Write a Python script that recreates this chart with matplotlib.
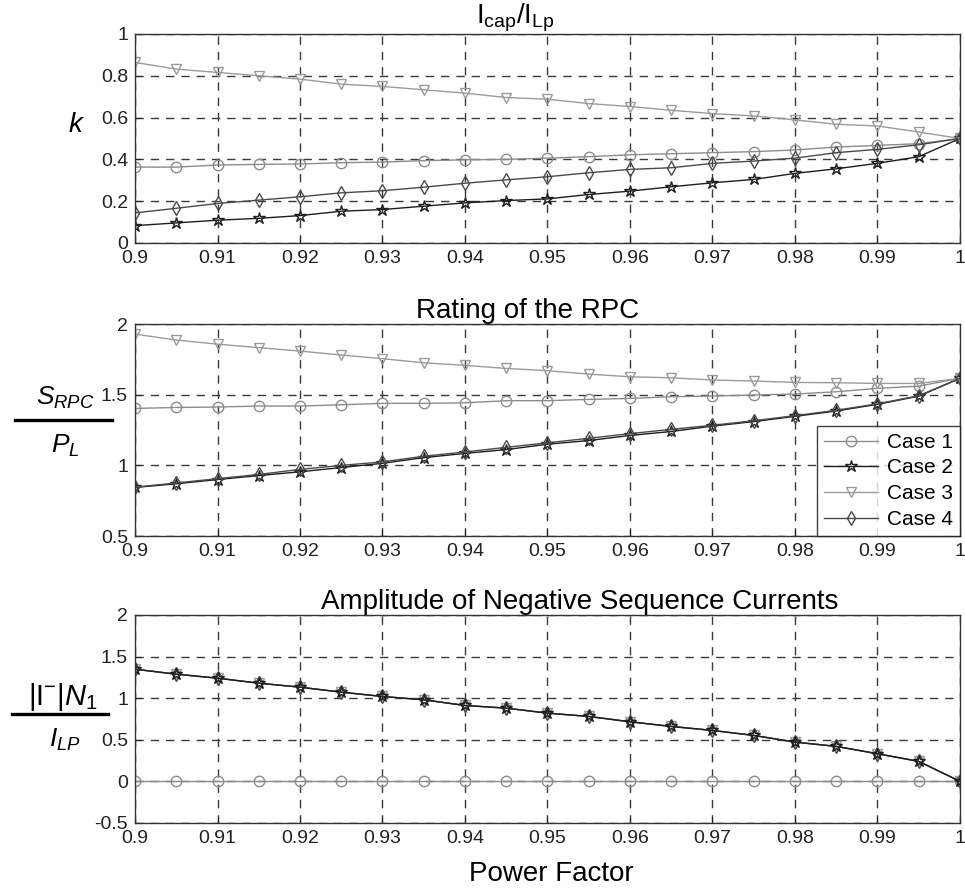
import numpy as np
import matplotlib.pyplot as plt
from matplotlib.lines import Line2D

plt.rcParams['font.family'] = ['Liberation Sans', 'DejaVu Sans']
plt.rcParams['mathtext.fontset'] = 'custom'
plt.rcParams['mathtext.rm'] = 'Liberation Sans'
plt.rcParams['mathtext.it'] = 'Liberation Sans:italic'

# power factor
pf = [0.9, 0.905, 0.91, 0.915, 0.92, 0.925, 0.93, 0.935, 0.94, 0.945, 0.95,
      0.955, 0.96, 0.965, 0.97, 0.975, 0.98, 0.985, 0.99, 0.995, 1.0]

# k = Icap/ILp
k_case1 = [0.363, 0.363, 0.373, 0.376, 0.378, 0.384, 0.387, 0.394, 0.398, 0.400, 0.406,
           0.413, 0.422, 0.427, 0.432, 0.437, 0.445, 0.459, 0.467, 0.475, 0.500]
k_case2 = [0.083, 0.096, 0.109, 0.118, 0.131, 0.152, 0.160, 0.176, 0.192, 0.203, 0.211,
           0.232, 0.248, 0.269, 0.288, 0.304, 0.333, 0.355, 0.381, 0.413, 0.500]
k_case3 = [0.864, 0.832, 0.816, 0.800, 0.784, 0.760, 0.749, 0.733, 0.717, 0.696, 0.688,
           0.667, 0.653, 0.635, 0.619, 0.608, 0.589, 0.568, 0.560, 0.531, 0.500]
k_case4 = [0.144, 0.166, 0.189, 0.205, 0.221, 0.240, 0.250, 0.267, 0.286, 0.302, 0.317,
           0.336, 0.352, 0.360, 0.381, 0.392, 0.406, 0.432, 0.448, 0.470, 0.500]

# rating of the RPC, S_RPC / P_L
s_case1 = [1.403, 1.410, 1.413, 1.420, 1.420, 1.429, 1.439, 1.439, 1.443, 1.458, 1.458,
           1.467, 1.474, 1.486, 1.491, 1.498, 1.505, 1.521, 1.545, 1.561, 1.616]
s_case2 = [0.844, 0.870, 0.900, 0.928, 0.955, 0.985, 1.015, 1.055, 1.085, 1.112, 1.150,
           1.176, 1.212, 1.240, 1.278, 1.310, 1.347, 1.385, 1.432, 1.490, 1.616]
s_case3 = [1.929, 1.887, 1.858, 1.833, 1.809, 1.781, 1.755, 1.726, 1.708, 1.686, 1.670,
           1.646, 1.627, 1.620, 1.604, 1.597, 1.587, 1.585, 1.580, 1.580, 1.616]
s_case4 = [0.846, 0.876, 0.906, 0.936, 0.972, 1.000, 1.025, 1.065, 1.095, 1.128, 1.160,
           1.192, 1.225, 1.255, 1.284, 1.316, 1.352, 1.390, 1.436, 1.493, 1.616]

# amplitude of negative sequence currents
n_case1 = [0.0] * 21
n_case2 = [1.348, 1.288, 1.240, 1.180, 1.132, 1.072, 1.020, 0.980, 0.912, 0.880, 0.820,
           0.780, 0.716, 0.660, 0.612, 0.552, 0.472, 0.420, 0.332, 0.240, 0.000]
n_case3 = n_case2
n_case4 = n_case2

xticks = [0.9, 0.91, 0.92, 0.93, 0.94, 0.95, 0.96, 0.97, 0.98, 0.99, 1.0]
xticklabels = ['0.9', '0.91', '0.92', '0.93', '0.94', '0.95', '0.96', '0.97', '0.98', '0.99', '1']

styles = [
    dict(marker='o', color='#8c8c8c', label='Case 1'),
    dict(marker='*', color='#1e1e1e', label='Case 2'),
    dict(marker='v', color='#9a9a9a', label='Case 3'),
    dict(marker='d', color='#4a4a4a', label='Case 4'),
]

fig = plt.figure(figsize=(9.65, 8.92), dpi=100)
w = 0.8549
ax1 = fig.add_axes([0.1399, 0.7276, w, 0.2343])
ax2 = fig.add_axes([0.1399, 0.3990, w, 0.2377])
ax3 = fig.add_axes([0.1399, 0.0774, w, 0.2332])


def draw(ax, series, order):
    for i in order:
        st = styles[i]
        ms = 9 if st['marker'] == '*' else 7.5
        ax.plot(pf, series[i], marker=st['marker'], color=st['color'], lw=1.0,
                ms=ms, mfc='none', mec=st['color'], mew=1.0, label=st['label'])


draw(ax1, [k_case1, k_case2, k_case3, k_case4], [0, 1, 2, 3])
draw(ax2, [s_case1, s_case2, s_case3, s_case4], [0, 1, 2, 3])
draw(ax3, [n_case1, n_case2, n_case3, n_case4], [0, 2, 3, 1])

ylims = [(0, 1), (0.5, 2), (-0.5, 2)]
yticks = [[0, 0.2, 0.4, 0.6, 0.8, 1], [0.5, 1, 1.5, 2], [-0.5, 0, 0.5, 1, 1.5, 2]]
yticklabels = [['0', '0.2', '0.4', '0.6', '0.8', '1'],
               ['0.5', '1', '1.5', '2'],
               ['-0.5', '0', '0.5', '1', '1.5', '2']]
titles = [r'$\mathregular{I_{cap}/I_{Lp}}$', 'Rating of the RPC',
          'Amplitude of Negative Sequence Currents']
title_x = [0.461, 0.476, 0.539]

for ax, yl, yt, ytl, t, tx in zip([ax1, ax2, ax3], ylims, yticks, yticklabels, titles, title_x):
    ax.set_xlim(0.9, 1.0)
    ax.set_ylim(*yl)
    ax.set_xticks(xticks)
    ax.set_xticklabels(xticklabels)
    ax.set_yticks(yt)
    ax.set_yticklabels(ytl)
    ax.tick_params(direction='in', labelsize=14, length=4, colors='#222222')
    ax.tick_params(axis='x', pad=5)
    ax.tick_params(axis='y', pad=5)
    ax.grid(True, linestyle=(0, (6, 5)), color='#3a3a3a', linewidth=1.0)
    for sp in ax.spines.values():
        sp.set_color('#333333')
        sp.set_linewidth(1.0)
    ax.set_title(t, fontsize=20, pad=2, x=tx)

leg = ax2.legend(loc='lower right', fontsize=15, frameon=True, fancybox=False,
                 borderaxespad=0.0, handlelength=2.6, labelspacing=0.32,
                 borderpad=0.35, handletextpad=0.4)
leg.get_frame().set_edgecolor('#111111')
leg.get_frame().set_linewidth(1.0)

# y labels
fig.text(75 / 965, 1 - 125 / 892, 'k', fontsize=20, style='italic', ha='center', va='center')

fig.text(65 / 965, 1 - 398 / 892, r'$S_{RPC}$', fontsize=19, ha='center', va='center')
fig.add_artist(Line2D([15 / 965, 112 / 965], [1 - 420 / 892, 1 - 420 / 892],
                      color='black', lw=2.4, transform=fig.transFigure))
fig.text(65 / 965, 1 - 446 / 892, r'$P_L$', fontsize=19, ha='center', va='center')

fig.text(63 / 965, 1 - 697 / 892, r'$\mathregular{|I^{-}|}N_1$', fontsize=21,
         ha='center', va='center')
fig.add_artist(Line2D([12 / 965, 108 / 965], [1 - 714 / 892, 1 - 714 / 892],
                      color='black', lw=2.4, transform=fig.transFigure))
fig.text(65 / 965, 1 - 740 / 892, r'$I_{LP}$', fontsize=19, ha='center', va='center')

fig.text(551 / 965, 1 - 874 / 892, 'Power Factor', fontsize=20, ha='center', va='center')

fig.savefig('out.png', dpi=100)
